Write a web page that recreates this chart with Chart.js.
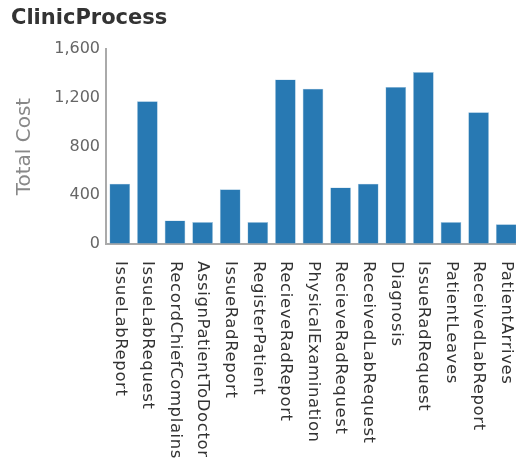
<!DOCTYPE html>
<html>
<head>
<meta charset="utf-8">
<script src="https://cdn.jsdelivr.net/npm/chart.js@4"></script>
<style>
  html, body { margin: 0; padding: 0; background: #fff; overflow: hidden; }
  #wrap { width: 520px; height: 461px; }
</style>
</head>
<body>
<div id="wrap"><canvas id="clinic-chart" width="520" height="461"></canvas></div>
<script>
const steps = [
  "IssueLabReport", "IssueLabRequest", "RecordChiefComplains", "AssignPatientToDoctor",
  "IssueRadReport", "RegisterPatient", "RecieveRadReport", "PhysicalExamination",
  "RecieveRadRequest", "ReceivedLabRequest", "Diagnosis", "IssueRadRequest",
  "PatientLeaves", "ReceivedLabReport", "PatientArrives"
];
const totalCost = [495, 1173, 193, 180, 449, 180, 1352, 1276, 465, 495, 1290, 1412, 180, 1083, 163];
const yTicks = [0, 400, 800, 1200, 1600];

const font = '"DejaVu Sans", Verdana, sans-serif';

// vertical step names, reading top to bottom under each bar
const stepLabels = {
  id: "stepLabels",
  afterDraw(chart) {
    const x = chart.scales.x;
    const ctx = chart.ctx;
    ctx.save();
    ctx.font = "16.5px " + font;
    ctx.letterSpacing = "0.6px";
    ctx.fillStyle = "#333";
    ctx.textAlign = "left";
    ctx.textBaseline = "middle";
    steps.forEach((name, i) => {
      ctx.save();
      ctx.translate(x.getPixelForValue(i), x.top + 17);
      ctx.rotate(Math.PI / 2);
      ctx.fillText(name, 0, 0);
      ctx.restore();
    });
    ctx.restore();
  }
};

new Chart(document.getElementById("clinic-chart"), {
  type: "bar",
  data: {
    labels: steps,
    datasets: [{
      label: "Total Cost",
      data: totalCost,
      backgroundColor: "#2879b3",
      borderColor: "#9cc3de",
      borderWidth: 0.6,
      categoryPercentage: 1,
      barPercentage: 0.75
    }]
  },
  options: {
    responsive: false,
    animation: false,
    layout: { padding: { left: 11, right: 0, top: 0, bottom: 0 } },
    plugins: {
      legend: { display: false },
      tooltip: { enabled: false },
      title: {
        display: true,
        text: "ClinicProcess",
        align: "start",
        color: "#333",
        font: { family: font, size: 21, weight: "bold" },
        padding: { top: 6, bottom: 18 }
      }
    },
    scales: {
      x: {
        grid: { color: "rgba(0,0,0,0)", drawTicks: false },
        border: { color: "#aaa", width: 2 },
        ticks: { display: false },
        afterFit: (s) => { s.height = 217; }
      },
      y: {
        min: 0,
        max: 1600,
        grid: { color: "rgba(0,0,0,0)", drawTicks: false },
        border: { color: "#aaa", width: 2 },
        afterBuildTicks: (s) => { s.ticks = yTicks.map((v) => ({ value: v })); },
        ticks: {
          color: "#666",
          padding: 6,
          font: { family: font, size: 16 },
          callback: (v) => v.toLocaleString("en-US")
        },
        title: {
          display: true,
          text: "Total Cost",
          color: "#888",
          padding: 2,
          font: { family: font, size: 20 }
        },
        afterFit: (s) => { s.width = 95; }
      }
    }
  },
  plugins: [stepLabels]
});
</script>
</body>
</html>
